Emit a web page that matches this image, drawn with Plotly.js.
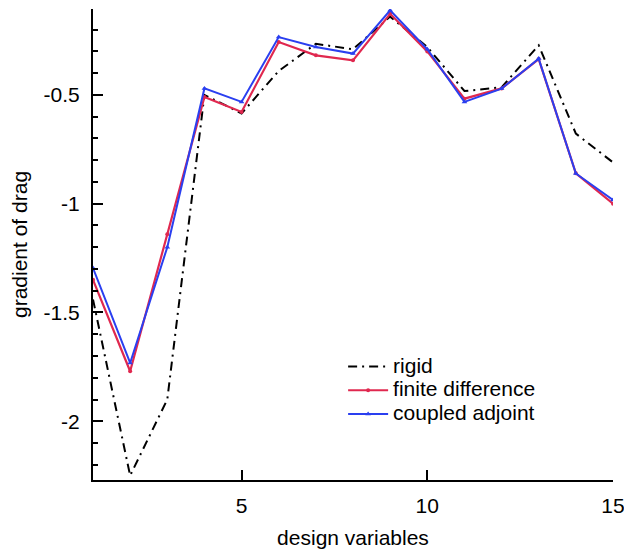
<!DOCTYPE html>
<html>
<head>
<meta charset="utf-8">
<script src="https://cdn.plot.ly/plotly-3.0.1.min.js"></script>
<style>html,body{margin:0;padding:0;background:#fff;}#chart{width:624px;height:550px;}</style>
</head>
<body>
<div id="chart"></div>
<script>
const designVars = [1,2,3,4,5,6,7,8,9,10,11,12,13,14,15];
const rigid = [-1.44,-2.25,-1.90,-0.50,-0.585,-0.39,-0.265,-0.29,-0.14,-0.28,-0.482,-0.465,-0.272,-0.678,-0.81];
const finiteDifference = [-1.35,-1.77,-1.14,-0.509,-0.578,-0.257,-0.318,-0.341,-0.127,-0.30,-0.517,-0.47,-0.335,-0.86,-1.0];
const coupledAdjoint = [-1.296,-1.732,-1.20,-0.47,-0.532,-0.234,-0.28,-0.31,-0.111,-0.29,-0.532,-0.471,-0.333,-0.861,-0.983];
const seriesNames = ['rigid','finite difference','coupled adjoint'];
const yTickVals = [-2,-1.5,-1,-0.5];
const yTickText = ['-2','-1.5','-1','-0.5'];
const xTickVals = [5,10,15];
const xTickText = ['5','10','15'];

const font = 'Liberation Sans, Arial, Helvetica, sans-serif';
const big = n => '<span style="font-size:21px">' + n + '</span>';
const traces = [
  {x: designVars, y: rigid, name: big(seriesNames[0]), mode: 'lines',
   line: {color: '#000000', width: 2, dash: '9px,5px,2px,5px'}},
  {x: designVars, y: finiteDifference, name: big(seriesNames[1]), mode: 'lines+markers',
   line: {color: '#e0284f', width: 2.2}, marker: {symbol: 'circle', size: 4, color: '#e0284f'}},
  {x: designVars, y: coupledAdjoint, name: big(seriesNames[2]), mode: 'lines+markers',
   line: {color: '#2a3ff0', width: 2}, marker: {symbol: 'triangle-up', size: 5, color: '#2a3ff0'}}
];
const layout = {
  width: 624, height: 550,
  margin: {l: 93, r: 11, t: 9, b: 70},
  paper_bgcolor: '#fff', plot_bgcolor: '#fff',
  font: {family: font, size: 21, color: '#000'},
  showlegend: true,
  legend: {x: 0.481, y: 0.277, xanchor: 'left', yanchor: 'top', bgcolor: 'rgba(0,0,0,0)',
           font: {family: font, size: 16, color: '#000'}, itemwidth: 40, tracegroupgap: 0},
  xaxis: {range: [1, 15], showline: true, linecolor: '#000', linewidth: 2,
          ticks: 'inside', ticklen: 10, tickwidth: 2, tickcolor: '#000',
          tickvals: xTickVals, ticktext: xTickText, showgrid: false, zeroline: false,
          ticklabeloverflow: 'allow',
          tickfont: {family: font, size: 21}, ticklabelstandoff: 6,
          title: {text: 'design variables', font: {family: font, size: 21}, standoff: 14}},
  yaxis: {range: [-2.27, -0.105], showline: true, linecolor: '#000', linewidth: 2,
          ticks: 'inside', ticklen: 10, tickwidth: 2, tickcolor: '#000',
          tickvals: yTickVals, ticktext: yTickText, showgrid: false, zeroline: false,
          minor: {dtick: 0.1, tick0: 0, ticks: 'inside', ticklen: 5, tickwidth: 2, tickcolor: '#000', showgrid: false},
          tickfont: {family: font, size: 21}, ticklabelstandoff: 7,
          title: {text: 'gradient of drag', font: {family: font, size: 21}, standoff: 10}}
};
Plotly.newPlot('chart', traces, layout, {displayModeBar: false, staticPlot: true});
</script>
</body>
</html>
